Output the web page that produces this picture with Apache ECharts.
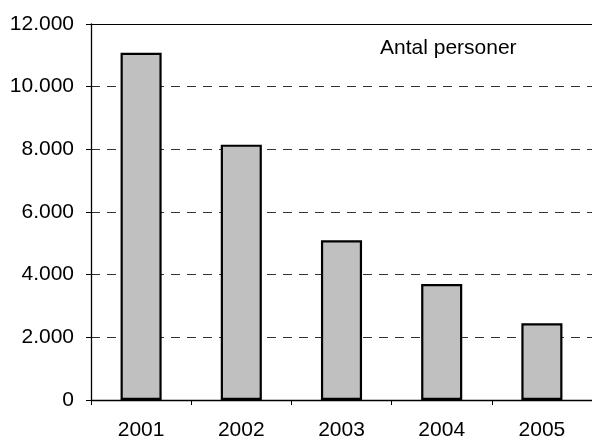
<!DOCTYPE html>
<html>
<head>
<meta charset="utf-8">
<script src="https://cdn.jsdelivr.net/npm/echarts@6/dist/echarts.min.js"></script>
<style>html,body{margin:0;padding:0;background:#fff}#c{width:592px;height:441px}</style>
</head>
<body>
<div id="c"></div>
<script>
const categories = ['2001', '2002', '2003', '2004', '2005'];
const values = [11080, 8150, 5100, 3700, 2450];
const seriesName = 'Antal personer';
const yTicks = [0, 2000, 4000, 6000, 8000, 10000, 12000];

const chart = echarts.init(document.getElementById('c'));
const fmt = v => v === 0 ? '0' : String(v).replace(/\B(?=(\d{3})+(?!\d))/g, '.');
chart.setOption({
  animation: false,
  backgroundColor: '#fff',
  textStyle: { fontFamily: 'Liberation Sans, Arial, sans-serif' },
  title: {
    text: seriesName,
    left: 375, top: 33,
    textStyle: { fontSize: 21, fontWeight: 'normal', color: '#000', fontFamily: 'Liberation Sans, Arial, sans-serif' }
  },
  grid: { left: 91, top: 24, right: -10, bottom: 39, containLabel: false },
  xAxis: {
    type: 'category',
    data: categories,
    axisLine: { lineStyle: { color: '#000', width: 1.3 } },
    axisTick: { show: true, alignWithLabel: false, length: 5, lineStyle: { color: '#000' } },
    axisLabel: { color: '#000', fontSize: 21, margin: 20 }
  },
  yAxis: {
    type: 'value',
    min: yTicks[0], max: yTicks[yTicks.length - 1], interval: 2000,
    axisLine: { show: true, lineStyle: { color: '#000', width: 1.3 } },
    axisTick: { show: true, length: 5, lineStyle: { color: '#000' } },
    axisLabel: { color: '#000', fontSize: 21, margin: 17, formatter: fmt },
    splitLine: { show: true, lineStyle: { color: '#333', type: [9, 7], width: 1 } }
  },
  series: [{
    name: seriesName,
    type: 'bar',
    data: values,
    barWidth: '41%',
    itemStyle: { color: '#c0c0c0', borderColor: '#000', borderWidth: 2.2 },
    markLine: {
      silent: true, symbol: 'none', label: { show: false },
      lineStyle: { color: '#000', type: 'solid', width: 1 },
      data: [{ yAxis: yTicks[yTicks.length - 1] }]
    }
  }]
});
</script>
</body>
</html>
